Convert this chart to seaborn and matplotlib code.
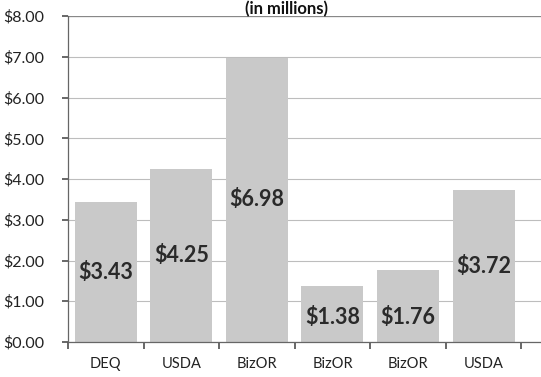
import matplotlib
matplotlib.use("Agg")
import matplotlib.pyplot as plt
import seaborn as sns
import pandas as pd
import numpy as np

categories = ["DEQ", "USDA", "BizOR", "BizOR", "BizOR", "USDA"]
values = [3.43, 4.25, 6.98, 1.38, 1.76, 3.72]
value_labels = ["$3.43", "$4.25", "$6.98", "$1.38", "$1.76", "$3.72"]
y_ticks = [0, 1, 2, 3, 4, 5, 6, 7, 8]
y_tick_labels = ["$0.00", "$1.00", "$2.00", "$3.00", "$4.00", "$5.00", "$6.00", "$7.00", "$8.00"]
title = "(in millions)"

sns.set_theme(style="white")
plt.rcParams["font.family"] = ["Lato", "DejaVu Sans"]

df = pd.DataFrame({"slot": [str(i) for i in range(len(categories))], "value": values})

fig = plt.figure(figsize=(5.41, 3.77), dpi=100)
ax = fig.add_axes([68 / 541, 1 - 342 / 377, 1 - 68 / 541, (342 - 16) / 377])

sns.barplot(data=df, x="slot", y="value", color="#c9c9c9", saturation=1,
            width=0.82, ax=ax, zorder=2, edgecolor="none")

ax.set_ylim(0, 8)
ax.set_xlim(-0.5, 5.76)
ax.set_yticks(y_ticks)
ax.set_yticklabels(y_tick_labels, fontsize=11.5, color="#222222")
ax.yaxis.grid(True, color="#bdbdbd", linewidth=0.8, zorder=0)
ax.set_axisbelow(True)

ax.set_xticks(np.arange(-0.5, 6.0, 1.0))
ax.set_xticklabels([])
ax.set_xticks(np.arange(len(categories)), minor=True)
ax.set_xticklabels(categories, minor=True, fontsize=10.5, color="#222222")
ax.tick_params(axis="x", which="major", length=5, color="#555555", direction="out", bottom=True)
ax.tick_params(axis="x", which="minor", length=0, pad=11)
ax.tick_params(axis="y", length=4, color="#555555", direction="out", left=True, pad=13)
ax.set_xlabel("")
ax.set_ylabel("")

for s in ["top", "right"]:
    ax.spines[s].set_visible(False)
for s in ["left", "bottom"]:
    ax.spines[s].set_color("#666666")
    ax.spines[s].set_linewidth(0.9)
ax.axhline(8, color="#888888", linewidth=0.9, zorder=1)

for i, (v, lab) in enumerate(zip(values, value_labels)):
    ax.text(i, v / 2 if v > 2 else 0.6, lab, ha="center", va="center",
            fontsize=15.5, fontweight="bold", color="#2a2a2a", zorder=3)

fig.text(0.53, 1 - 1 / 377, title, ha="center", va="top",
         fontsize=12, fontweight="bold", color="#111111")

fig.savefig("out.png", dpi=100)
